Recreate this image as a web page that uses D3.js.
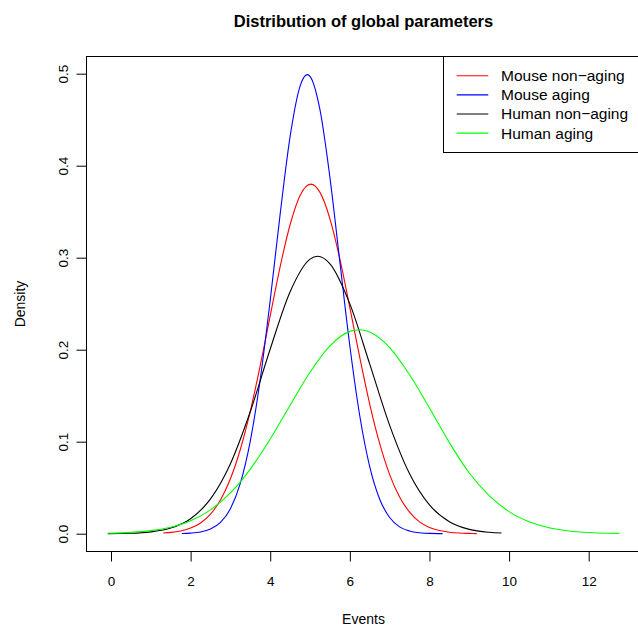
<!DOCTYPE html>
<html>
<head>
<meta charset="utf-8">
<script src="https://cdn.jsdelivr.net/npm/d3@7"></script>
<style>
  body { margin: 0; background: #fff; }
  svg { display: block; font-family: "Liberation Sans", Arial, Helvetica, sans-serif; }
</style>
</head>
<body>
<div id="chart"></div>
<script>
// Density curves of global parameters

const seriesNames = ["Mouse non\u2212aging", "Mouse aging", "Human non\u2212aging", "Human aging"];
const seriesColors = ["#ff0000", "#0000ff", "#000000", "#00ff00"];

const mouseNonAgingX = [1.31, 1.5, 1.75, 2.0, 2.25, 2.5, 2.75, 3.0, 3.25, 3.5, 3.75, 4.0, 4.25, 4.5, 4.75, 5.02,
  5.25, 5.5, 5.75, 6.0, 6.25, 6.5, 6.75, 7.0, 7.25, 7.5, 7.75, 8.0, 8.25, 8.5, 8.75, 9.0, 9.19];
const mouseNonAgingY = [0.0007, 0.0014, 0.0030, 0.0061, 0.0117, 0.0213, 0.0367, 0.0597, 0.0918, 0.1333, 0.1829,
  0.2371, 0.2904, 0.3361, 0.3677, 0.3800, 0.3710, 0.3423, 0.2984, 0.2458, 0.1913, 0.1407, 0.0978, 0.0642,
  0.0398, 0.0234, 0.0129, 0.0068, 0.0034, 0.0016, 0.0007, 0.0003, 0.0001];

const mouseAgingX = [1.78, 2.0, 2.25, 2.5, 2.75, 3.0, 3.25, 3.5, 3.75, 4.0, 4.25, 4.5, 4.75, 4.93, 5.0, 5.25,
  5.5, 5.75, 6.0, 6.25, 6.5, 6.75, 7.0, 7.25, 7.5, 7.75, 8.0, 8.33];
const mouseAgingY = [0.0002, 0.0006, 0.0018, 0.0050, 0.0122, 0.0272, 0.0550, 0.1010, 0.1682, 0.2539, 0.3477,
  0.4319, 0.4865, 0.4990, 0.4971, 0.4606, 0.3871, 0.2951, 0.2040, 0.1279, 0.0727, 0.0375, 0.0176, 0.0074,
  0.0029, 0.0010, 0.0003, 0.0001];

const humanNonAgingX = [-0.08, 0.5, 1.0, 1.5, 2.0, 2.5, 3.0, 3.5, 4.0, 4.5, 5.0, 5.19, 5.5, 6.0, 6.5, 7.0,
  7.5, 8.0, 8.5, 9.0, 9.5, 9.81];
const humanNonAgingY = [0.0001, 0.0005, 0.0020, 0.0061, 0.0163, 0.0378, 0.0761, 0.1328, 0.2008, 0.2630,
  0.2984, 0.3015, 0.2933, 0.2498, 0.1843, 0.1178, 0.0652, 0.0313, 0.0130, 0.0047, 0.0015, 0.0007];

const humanAgingX = [-0.08, 0.5, 1.0, 1.5, 2.0, 2.5, 3.0, 3.5, 4.0, 4.5, 5.0, 5.5, 6.0, 6.23, 6.5, 7.0, 7.5,
  8.0, 8.5, 9.0, 9.5, 10.0, 10.5, 11.0, 11.5, 12.0, 12.5, 12.77];
const humanAgingY = [0.0005, 0.0014, 0.0033, 0.0070, 0.0140, 0.0259, 0.0443, 0.0702, 0.1029, 0.1397, 0.1755,
  0.2042, 0.2199, 0.2217, 0.2192, 0.2023, 0.1728, 0.1367, 0.0990, 0.0660, 0.0415, 0.0240, 0.0130, 0.0064,
  0.0030, 0.0013, 0.0005, 0.0003];

const xTicks = [0, 2, 4, 6, 8, 10, 12];
const yTicks = [0, 0.1, 0.2, 0.3, 0.4, 0.5];
const yTickLabels = ["0.0", "0.1", "0.2", "0.3", "0.4", "0.5"];

const W = 638, H = 632;
// plot box (right edge falls just outside the picture, like the original)
const box = { left: 86.5, top: 56.5, right: 640.5, bottom: 551.5 };

const x = d3.scaleLinear().domain([0, 12]).range([111, 588.7]);
const y = d3.scaleLinear().domain([0, 0.5]).range([533.7, 73.7]);

const svg = d3.select("#chart").append("svg")
  .attr("width", W)
  .attr("height", H);

svg.append("rect").attr("width", W).attr("height", H).attr("fill", "#fff");

// Curves
const seriesX = [mouseNonAgingX, mouseAgingX, humanNonAgingX, humanAgingX];
const seriesY = [mouseNonAgingY, mouseAgingY, humanNonAgingY, humanAgingY];

const line = d3.line()
  .x(d => x(d[0]))
  .y(d => y(d[1]))
  .curve(d3.curveMonotoneX);

seriesNames.forEach((name, i) => {
  const pts = seriesX[i].map((v, j) => [v, seriesY[i][j]]);
  svg.append("path")
    .datum(pts)
    .attr("fill", "none")
    .attr("stroke", seriesColors[i])
    .attr("stroke-width", 1.1)
    .attr("d", line);
});

// Box
svg.append("rect")
  .attr("x", box.left)
  .attr("y", box.top)
  .attr("width", box.right - box.left)
  .attr("height", box.bottom - box.top)
  .attr("fill", "none")
  .attr("stroke", "#000")
  .attr("stroke-width", 1);

// X axis
const xAxis = d3.axisBottom(x)
  .tickValues(xTicks)
  .tickSize(10)
  .tickPadding(15)
  .tickFormat(d3.format("d"));

const gx = svg.append("g")
  .attr("transform", `translate(0,${box.bottom})`)
  .call(xAxis);
gx.select(".domain").remove();
gx.selectAll("text").attr("font-size", 13.5).attr("fill", "#000").attr("font-family", null);

// Y axis
const yAxis = d3.axisLeft(y)
  .tickValues(yTicks)
  .tickSize(10)
  .tickFormat((d, i) => yTickLabels[i]);

const gy = svg.append("g")
  .attr("transform", `translate(${box.left},0)`)
  .call(yAxis);
gy.select(".domain").remove();
gy.selectAll("text")
  .attr("font-size", 13.5)
  .attr("fill", "#000")
  .attr("font-family", null)
  .attr("x", null)
  .attr("dy", null)
  .attr("text-anchor", "middle")
  .attr("transform", "translate(-18.5,0) rotate(-90)");

// Titles
svg.append("text")
  .attr("x", (box.left + box.right) / 2)
  .attr("y", 27)
  .attr("text-anchor", "middle")
  .attr("font-size", 16.5)
  .attr("font-weight", "bold")
  .text("Distribution of global parameters");

svg.append("text")
  .attr("x", (box.left + box.right) / 2)
  .attr("y", 624)
  .attr("text-anchor", "middle")
  .attr("font-size", 14)
  .text("Events");

svg.append("text")
  .attr("transform", `translate(25,${(box.top + box.bottom) / 2}) rotate(-90)`)
  .attr("text-anchor", "middle")
  .attr("font-size", 14)
  .text("Density");

// Legend (top right corner of the box)
const legend = svg.append("g");
legend.append("rect")
  .attr("x", 443.5)
  .attr("y", box.top)
  .attr("width", box.right - 443.5)
  .attr("height", 152.5 - box.top)
  .attr("fill", "#fff")
  .attr("stroke", "#000");

seriesNames.forEach((name, i) => {
  const ly = 75.8 + i * 19.1;
  legend.append("line")
    .attr("x1", 456.7).attr("x2", 488.3)
    .attr("y1", ly).attr("y2", ly)
    .attr("stroke", seriesColors[i])
    .attr("stroke-width", 1.1);
  legend.append("text")
    .attr("x", 501)
    .attr("y", ly)
    .attr("dy", "0.35em")
    .attr("font-size", 15.5)
    .text(name);
});
</script>
</body>
</html>
